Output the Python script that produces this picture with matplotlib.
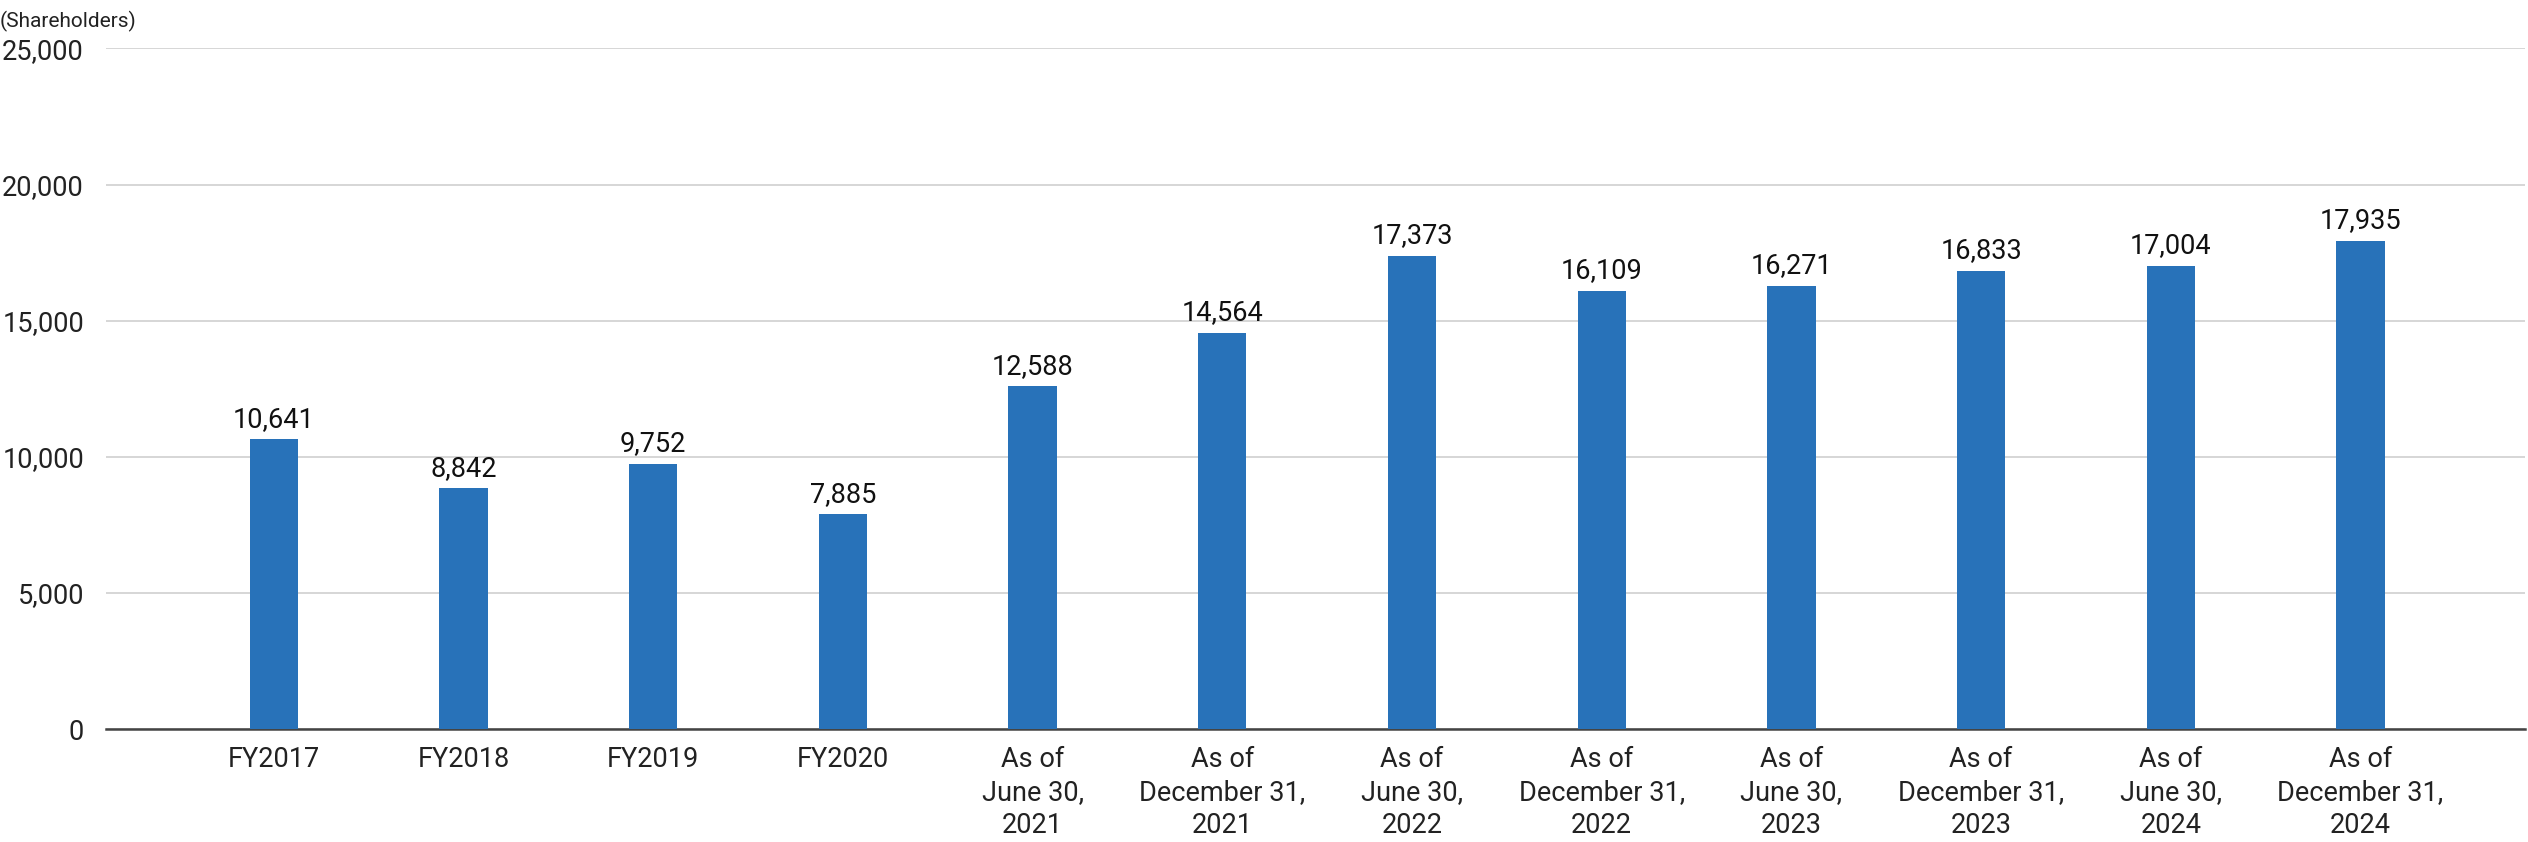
import matplotlib
matplotlib.use("Agg")
import matplotlib.pyplot as plt

categories = ["FY2017", "FY2018", "FY2019", "FY2020",
              "As of\nJune 30,\n2021", "As of\nDecember 31,\n2021",
              "As of\nJune 30,\n2022", "As of\nDecember 31,\n2022",
              "As of\nJune 30,\n2023", "As of\nDecember 31,\n2023",
              "As of\nJune 30,\n2024", "As of\nDecember 31,\n2024"]
values = [10641, 8842, 9752, 7885, 12588, 14564, 17373, 16109, 16271, 16833, 17004, 17935]
yticks = [0, 5000, 10000, 15000, 20000, 25000]

plt.rcParams['font.family'] = ['Roboto', 'DejaVu Sans']
fig = plt.figure(figsize=(25.28, 8.42), dpi=100)
ax = fig.add_axes([0.042, 0.134, 0.957, 0.8085])
x = list(range(len(values)))
ax.bar(x, values, width=0.255, color='#2872b9', zorder=3)
for xi, v in zip(x, values):
    ax.text(xi, v + 250, f"{v:,}", ha='center', va='bottom', fontsize=19.5, color='#111111')
ax.set_xlim(-0.884, 11.87)
ax.set_ylim(0, 25000)
ax.set_yticks(yticks)
ax.set_yticklabels([f"{t:,}" for t in yticks], fontsize=19.5, color='#222222')
ax.set_xticks(x)
ax.set_xticklabels(categories, fontsize=19.5, color='#222222', va='top', linespacing=1.3)
ax.tick_params(axis='both', length=0, pad=12)
ax.tick_params(axis='y', pad=16)
ax.grid(axis='y', color='#d0d0d0', linewidth=1.2, zorder=0)
for s in ['top', 'right', 'left']:
    ax.spines[s].set_visible(False)
ax.spines['bottom'].set_color('#444444')
ax.spines['bottom'].set_linewidth(1.8)
fig.text(0.0, 0.975, "(Shareholders)", fontsize=15, color='#222222', ha='left', va='center')
fig.savefig("out.png", dpi=100)
